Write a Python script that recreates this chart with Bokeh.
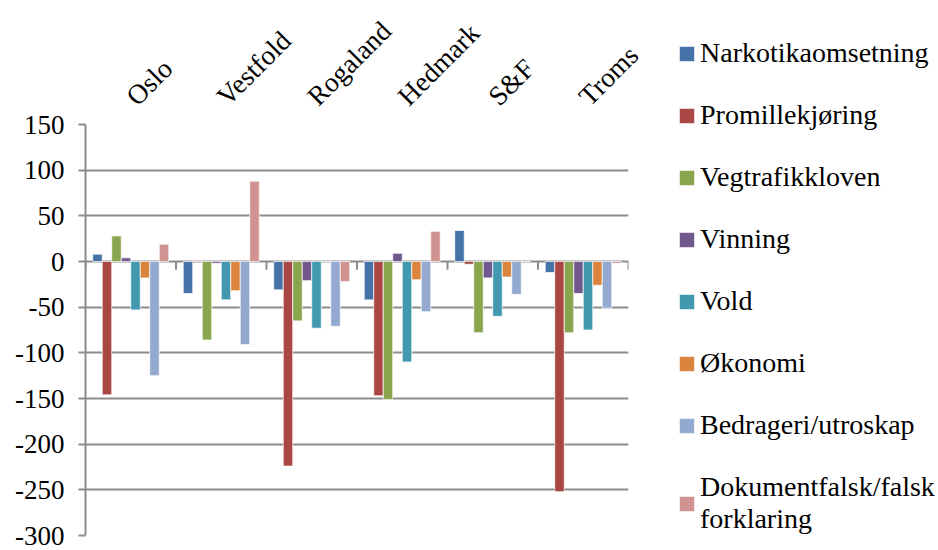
from math import pi
from bokeh.plotting import figure
from bokeh.models import (Range1d, FixedTicker, LinearAxis, Legend, LegendItem)
from bokeh.embed import file_html
from bokeh.resources import INLINE

regions = ["Oslo", "Vestfold", "Rogaland", "Hedmark", "S&F", "Troms"]
series_names = ["Narkotikaomsetning", "Promillekjøring", "Vegtrafikkloven", "Vinning",
                "Vold", "Økonomi", "Bedrageri/utroskap", "Dokumentfalsk/falsk\nforklaring"]
narkotika = [8, -35, -31, -42, 34, -12]
promille = [-146, 1, -224, -147, -3, -252]
vegtrafikk = [28, -86, -65, -151, -78, -78]
vinning = [4, -2, -21, 9, -18, -35]
vold = [-53, -42, -73, -110, -60, -75]
okonomi = [-18, -32, 0, -20, -17, -26]
bedrageri = [-125, -91, -71, -55, -36, -51]
dokument = [19, 88, -22, 33, 0, -2]
series_values = [narkotika, promille, vegtrafikk, vinning, vold, okonomi, bedrageri, dokument]
colors = ["#4572A7", "#AA4643", "#89A54E", "#71588F", "#4198AF", "#DB843D", "#93A9CF", "#D19392"]
y_ticks = [150, 100, 50, 0, -50, -100, -150, -200, -250, -300]

FONT = "Liberation Serif"
GRID = "#8C8C8C"

p = figure(frame_width=543, frame_height=411, output_backend="svg", toolbar_location=None,
           x_range=Range1d(0, len(regions)), y_range=Range1d(-300, 150),
           x_axis_location=None, y_axis_location="left",
           min_border_left=85, min_border_right=0, min_border_top=124, min_border_bottom=14)
p.outline_line_color = None
p.background_fill_color = "white"
p.border_fill_color = "white"
p.xgrid.visible = False
p.ygrid.ticker = FixedTicker(ticks=y_ticks)
p.ygrid.grid_line_color = GRID
p.ygrid.grid_line_width = 2

yax = p.yaxis[0]
yax.ticker = FixedTicker(ticks=y_ticks)
yax.major_label_overrides = {t: str(t) for t in y_ticks}
yax.axis_line_color = GRID
yax.axis_line_width = 2
yax.major_tick_line_color = GRID
yax.major_tick_line_width = 2
yax.major_tick_out = 7
yax.major_tick_in = 0
yax.minor_tick_line_color = None
yax.major_label_text_font = FONT
yax.major_label_text_font_size = "27px"
yax.major_label_text_color = "black"
yax.major_label_standoff = 14

top = LinearAxis(ticker=FixedTicker(ticks=[i + 0.5 for i in range(len(regions))]),
                 major_label_overrides={i + 0.5: r for i, r in enumerate(regions)})
top.axis_line_color = None
top.major_tick_line_color = None
top.minor_tick_line_color = None
top.major_label_orientation = pi / 4
top.major_label_text_font = FONT
top.major_label_text_font_size = "27.5px"
top.major_label_text_color = "black"
top.major_label_standoff = 18
p.add_layout(top, "above")

bw = 0.105
n = len(series_values)
items = []
for j, (vals, col, name) in enumerate(zip(series_values, colors, series_names)):
    xs = [i + 0.5 + (j - (n - 1) / 2) * bw for i in range(len(regions))]
    r = p.vbar(x=xs, top=vals, bottom=0, width=bw, fill_color=col,
               line_color="white", line_width=1, line_alpha=0.7)
    items.append(LegendItem(label=name, renderers=[r]))

# category boundary tick marks on the zero line
bounds = list(range(len(regions) + 1))
p.segment(x0=bounds, y0=[0] * len(bounds), x1=bounds, y1=[-9] * len(bounds),
          line_color=GRID, line_width=2)

legend = Legend(items=items, location=(49, 0), orientation="vertical",
                padding=0, margin=0, border_line_color=None, background_fill_alpha=0,
                glyph_width=19, glyph_height=19, label_standoff=4, spacing=30,
                label_height=30, label_text_font=FONT, label_text_font_size="28px",
                label_text_color="black", label_text_line_height=1.2)
p.add_layout(legend, "right")

open("out.html", "w").write(file_html(p, INLINE))
